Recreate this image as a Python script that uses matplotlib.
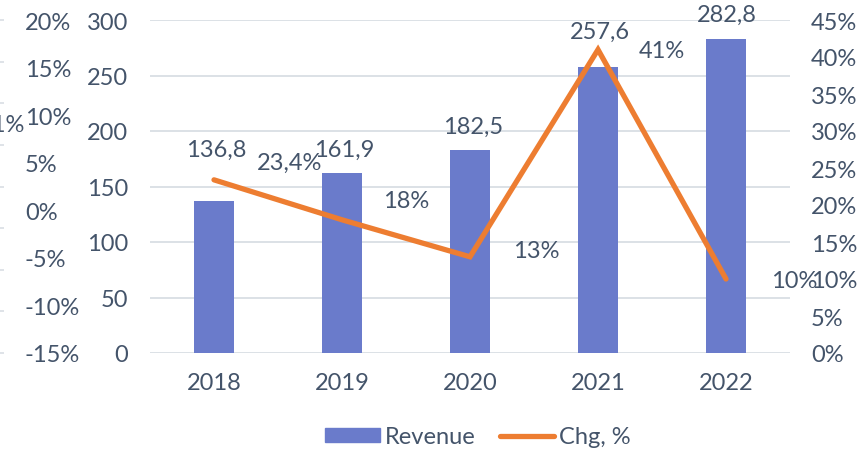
import numpy as np
import matplotlib
matplotlib.use("Agg")
import matplotlib.pyplot as plt
from matplotlib.lines import Line2D
from matplotlib.patches import Patch

plt.rcParams['font.family'] = ['Lato', 'DejaVu Sans']

# data
years = ["2018", "2019", "2020", "2021", "2022"]
revenue = [136.8, 161.9, 182.5, 257.6, 282.8]
chg = [23.4, 18, 13, 41, 10]
chg_labels = ["23,4%", "18%", "13%", "41%", "10%"]
rev_labels = ["136,8", "161,9", "182,5", "257,6", "282,8"]
far_left_ticks = [-15, -10, -5, 0, 5, 10, 15, 20]

# label offsets in pixels (as moved by hand in the original)
rev_off = [(2, 52), (2, 24), (3, 24), (2, 36), (1, 25)]
chg_off = [(76, 17), (64, 19), (66, 6), (64, -1), (68, -2)]

txt = "#44546A"
bar_c = "#6A7BCB"
line_c = "#ED7D31"
grid_c = "#D9DEE4"
fs = 17

W, H = 864, 452
fig = plt.figure(figsize=(W / 100, H / 100), dpi=100)
ax = fig.add_axes([150 / W, 1 - 354 / H, 640 / W, 333 / H])

x = np.arange(len(years))
ax.bar(x, revenue, width=0.3125, color=bar_c, zorder=2)
ax.set_xlim(-0.5, 4.5)
ax.set_ylim(0, 300)
ax.set_yticks(range(0, 301, 50))
ax.grid(axis="y", color=grid_c, lw=1.3, zorder=0)
ax.set_xticks(x)
ax.set_xticklabels(years)
for s in ax.spines.values():
    s.set_visible(False)
ax.tick_params(axis="both", length=0, labelsize=fs, labelcolor=txt)
ax.tick_params(axis="x", pad=14)
ax.tick_params(axis="y", pad=22 * 0.72)

for i, v in enumerate(revenue):
    ax.annotate(rev_labels[i], (x[i], v), xytext=rev_off[i], textcoords="offset pixels",
                ha="center", va="center", fontsize=fs, color=txt, zorder=5)

# right axis: change, %
ax2 = ax.twinx()
ax2.plot(x, chg, color=line_c, lw=3.8, solid_capstyle="round", solid_joinstyle="miter", zorder=3)
ax2.set_ylim(0, 45)
ax2.set_yticks(range(0, 46, 5))
ax2.set_yticklabels([f"{t}%" for t in range(0, 46, 5)])
for s in ax2.spines.values():
    s.set_visible(False)
ax2.tick_params(axis="y", length=0, labelsize=fs, labelcolor=txt, pad=21 * 0.72)
for i, v in enumerate(chg):
    ax2.annotate(chg_labels[i], (x[i], v), xytext=chg_off[i], textcoords="offset pixels",
                 ha="center", va="center", fontsize=fs, color=txt, zorder=5)

# far left stray axis
ax3 = ax.twinx()
ax3.set_ylim(-15, 20)
ax3.set_yticks(far_left_ticks)
ax3.set_yticklabels([f"{t}%" for t in far_left_ticks])
ax3.yaxis.set_ticks_position("left")
ax3.yaxis.set_label_position("left")
for s in ax3.spines.values():
    s.set_visible(False)
ax3.tick_params(axis="y", length=0, labelsize=fs, labelcolor=txt, pad=125 * 0.72)
for lab in ax3.get_yticklabels():
    lab.set_horizontalalignment("left")

# tiny stubs at the far left edge
ax4 = ax.twinx()
ax4.set_ylim(0, 8)
ax4.set_yticks(range(9))
ax4.set_yticklabels([])
ax4.yaxis.set_ticks_position("left")
ax4.spines["left"].set_position(("outward", 150 * 0.72))
for s in ax4.spines.values():
    s.set_visible(False)
ax4.tick_params(axis="y", direction="in", length=3, width=1.2, color=grid_c)

fig.text(24 / W, 1 - 125 / H, "11%", ha="right", va="center", fontsize=fs, color=txt)

handles = [Patch(color=bar_c), Line2D([], [], color=line_c, lw=3.8, solid_capstyle="round")]
fig.legend(handles, ["Revenue", "Chg, %"], loc="center", bbox_to_anchor=(478 / W, 1 - 438 / H),
           ncol=2, frameon=False, fontsize=fs, labelcolor=txt, handlelength=2.3,
           handleheight=0.5, handletextpad=0.2, columnspacing=1.05)

fig.savefig("out.png", dpi=100)
